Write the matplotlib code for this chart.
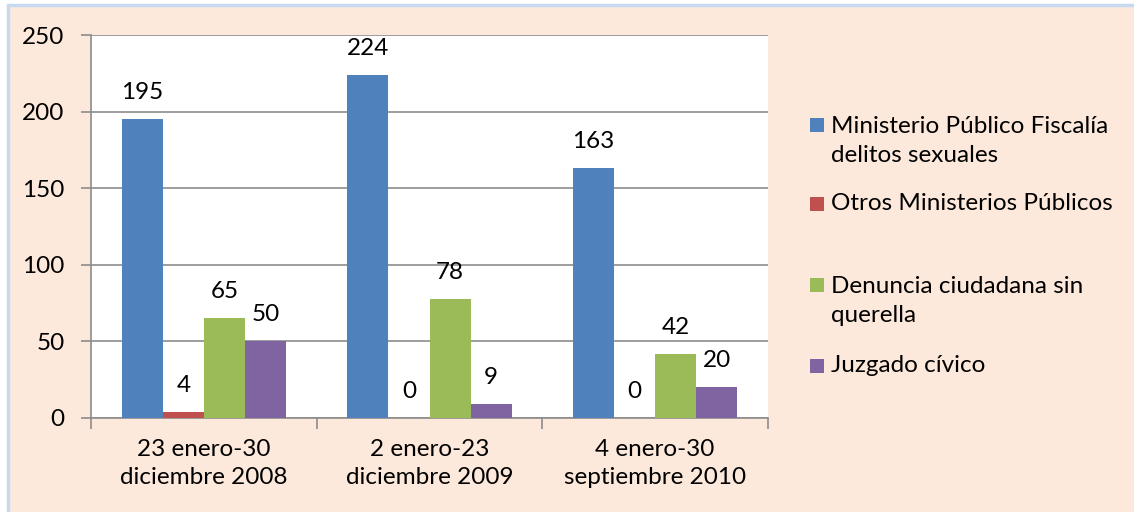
import matplotlib.pyplot as plt
import numpy as np
from matplotlib.patches import Rectangle

# Datos
periodos = ['23 enero-30\ndiciembre 2008', '2 enero-23\ndiciembre 2009', '4 enero-30\nseptiembre 2010']
series = ['Ministerio Público Fiscalía\ndelitos sexuales', 'Otros Ministerios Públicos',
          'Denuncia ciudadana sin\nquerella', 'Juzgado cívico']
ministerio_fiscalia = [195, 224, 163]
otros_ministerios = [4, 0, 0]
denuncia_ciudadana = [65, 78, 42]
juzgado_civico = [50, 9, 20]
valores = [ministerio_fiscalia, otros_ministerios, denuncia_ciudadana, juzgado_civico]
colores = ['#4F81BD', '#C0504D', '#9BBB59', '#8064A2']

plt.rcParams['font.family'] = ['Lato', 'DejaVu Sans']
fondo = '#FDE9DB'
fs = 17.5

fig = plt.figure(figsize=(11.34, 5.12), dpi=100, facecolor='white')
# Fondo melocotón con borde azul claro
fondo_rect = Rectangle((8 / 1134, -0.01), 1, 1.01 - 5 / 512, transform=fig.transFigure,
                       facecolor=fondo, edgecolor='#C6D9F1', linewidth=2.5, zorder=-5)
fig.add_artist(fondo_rect)

ax = fig.add_axes([91 / 1134, 1 - 418 / 512, 677 / 1134, 383 / 512])
ax.set_zorder(2)
ax.set_facecolor('white')

x = np.arange(len(periodos))
ancho = 0.182
for i, (vals, col) in enumerate(zip(valores, colores)):
    pos = x + (i - 1.5) * ancho
    barras = ax.bar(pos, vals, ancho, color=col, zorder=3)
    for b, v in zip(barras, vals):
        ax.annotate(str(v), (b.get_x() + b.get_width() / 2, v), xytext=(0, 16),
                    textcoords='offset pixels', ha='center', va='bottom', fontsize=fs)

ax.set_xlim(-0.5, 2.5)
ax.set_ylim(0, 250)
ax.set_yticks(range(0, 251, 50))
ax.yaxis.grid(True, color='#8C8C8C', linewidth=1.2, zorder=0)
ax.tick_params(axis='y', length=7, width=1.2, color='#8C8C8C', labelsize=fs, pad=12)
ax.set_xticks([-0.5, 0.5, 1.5, 2.5])
ax.set_xticklabels([])
ax.tick_params(axis='x', which='major', length=8, width=1.2, color='#8C8C8C')
ax.set_xticks(x, minor=True)
ax.set_xticklabels(periodos, minor=True, fontsize=fs, linespacing=1.4)
ax.tick_params(axis='x', which='minor', length=0, pad=15)
for s in ['top', 'right']:
    ax.spines[s].set_visible(False)
for s in ['left', 'bottom']:
    ax.spines[s].set_color('#8C8C8C')
    ax.spines[s].set_linewidth(1.2)

# Leyenda
y_centros = [141, 204, 301, 366]
for nombre, col, yc in zip(series, colores, y_centros):
    primera = yc - 16 if '\n' in nombre else yc
    fig.add_artist(Rectangle((810 / 1134, 1 - (primera + 7) / 512), 14 / 1134, 14 / 512,
                             transform=fig.transFigure, facecolor=col, edgecolor='none'))
    fig.text(831 / 1134, 1 - yc / 512, nombre, fontsize=fs, va='center', ha='left',
             linespacing=1.45)

fig.savefig('out.png', dpi=100, facecolor=fig.get_facecolor())
